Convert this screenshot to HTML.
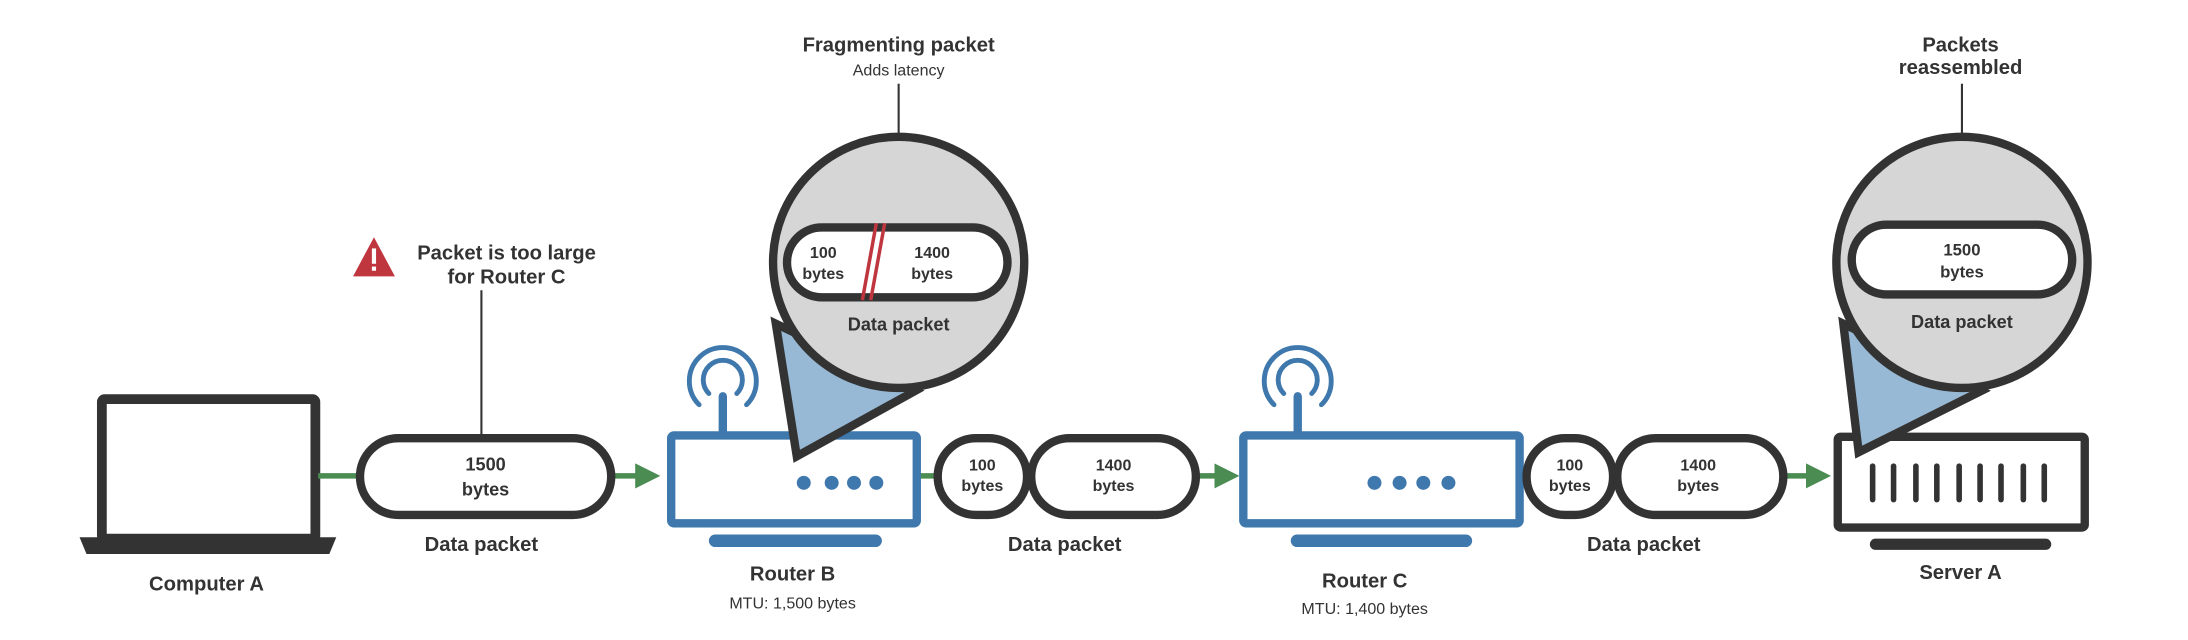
<!DOCTYPE html>
<html><head><meta charset="utf-8"><style>
html,body{margin:0;padding:0;background:#fff;}
svg{display:block}
text{font-family:"Liberation Sans",sans-serif;fill:#333;text-anchor:middle}
.b{font-weight:bold;font-size:14.5px}
.s{font-size:11.5px}
.p{font-weight:bold;font-size:13px}
</style></head><body>
<svg width="2188" height="640" viewBox="0 0 1568 458.6" preserveAspectRatio="none">
<defs>
<marker id="ar" viewBox="0 0 10 10" refX="6" refY="5" markerWidth="4.5" markerHeight="4.5" orient="auto"><path d="M0,0 L10,5 L0,10 z" fill="#4a8c52"/></marker>
</defs>
<!-- Computer A -->
<rect x="73" y="286" width="153" height="100" fill="#fff" stroke="#333" stroke-width="7" rx="2"/>
<path d="M57,385 H241 L236,397 H62 Z" fill="#333"/>
<text class="b" x="148" y="423">Computer A</text>
<!-- green connectors -->
<g stroke="#4a8c52" stroke-width="4" fill="none">
<line x1="228" y1="341" x2="258" y2="341"/>
<line x1="439" y1="341" x2="466" y2="341" marker-end="url(#ar)"/>
<line x1="659" y1="341" x2="672" y2="341"/>
<line x1="857" y1="341" x2="881" y2="341" marker-end="url(#ar)"/>
<line x1="1090" y1="341" x2="1095" y2="341"/>
<line x1="1278" y1="341" x2="1305" y2="341" marker-end="url(#ar)"/>
</g>
<!-- packet 1 -->
<rect x="258" y="314" width="180" height="55" rx="27.5" fill="#fff" stroke="#333" stroke-width="6"/>
<text class="p" x="348" y="337">1500</text><text class="p" x="348" y="355">bytes</text>
<text class="b" x="345" y="395">Data packet</text>
<line x1="345" y1="208" x2="345" y2="314" stroke="#333" stroke-width="1.5"/>
<path d="M268,170 L283,198 L253,198 Z" fill="#c0363f"/>
<rect x="266.5" y="178" width="3" height="11" fill="#fff"/><rect x="266.5" y="191" width="3" height="3" fill="#fff"/>
<text class="b" x="363" y="186">Packet is too large</text>
<text class="b" x="363" y="203">for Router C</text>
<!-- Router B -->
<g fill="none" stroke="#3f78ad" stroke-width="3.5" stroke-linecap="round">
<path d="M508,282 A14,14 0 1 1 528,282"/>
<path d="M501,290 A24,24 0 1 1 535,290"/>
</g>
<line x1="518" y1="284" x2="518" y2="312" stroke="#3f78ad" stroke-width="6" stroke-linecap="round"/>
<rect x="481" y="312" width="176" height="63" fill="#fff" stroke="#3f78ad" stroke-width="6" rx="2"/>
<g fill="#3f78ad"><circle cx="576" cy="346" r="5"/><circle cx="596" cy="346" r="5"/><circle cx="612" cy="346" r="5"/><circle cx="628" cy="346" r="5"/></g>
<rect x="508" y="383" width="124" height="9" rx="4.5" fill="#3f78ad"/>
<text class="b" x="568" y="416">Router B</text>
<text class="s" x="568" y="436">MTU: 1,500 bytes</text>
<!-- magnifier B -->
<line x1="644" y1="60" x2="644" y2="98" stroke="#333" stroke-width="1.5"/>
<text class="b" x="644" y="37">Fragmenting packet</text>
<text class="s" x="644" y="54">Adds latency</text>
<path d="M556,232 L571,327 L656,280 Z" fill="#98b9d5" stroke="#333" stroke-width="6" stroke-linejoin="miter"/>
<ellipse cx="644" cy="188" rx="90" ry="90" fill="#d6d6d6" stroke="#333" stroke-width="6"/>
<rect x="564" y="163" width="158" height="50" rx="25" fill="#fff" stroke="#333" stroke-width="6"/>
<g stroke="#c0363f" stroke-width="2.5"><line x1="618" y1="215" x2="628" y2="160"/><line x1="624" y1="215" x2="634" y2="160"/></g>
<text class="p" x="590" y="185" style="font-size:11.5px">100</text><text class="p" x="590" y="200" style="font-size:11.5px">bytes</text>
<text class="p" x="668" y="185" style="font-size:11.5px">1400</text><text class="p" x="668" y="200" style="font-size:11.5px">bytes</text>
<text class="p" x="644" y="237">Data packet</text>
<!-- packets between B and C -->
<rect x="672" y="314" width="64" height="55" rx="27.5" fill="#fff" stroke="#333" stroke-width="6"/>
<text class="p" x="704" y="337" style="font-size:11.5px">100</text><text class="p" x="704" y="352" style="font-size:11.5px">bytes</text>
<rect x="739" y="314" width="118" height="55" rx="27.5" fill="#fff" stroke="#333" stroke-width="6"/>
<text class="p" x="798" y="337" style="font-size:11.5px">1400</text><text class="p" x="798" y="352" style="font-size:11.5px">bytes</text>
<text class="b" x="763" y="395">Data packet</text>
<!-- Router C -->
<g fill="none" stroke="#3f78ad" stroke-width="3.5" stroke-linecap="round">
<path d="M920,282 A14,14 0 1 1 940,282"/>
<path d="M913,290 A24,24 0 1 1 947,290"/>
</g>
<line x1="930" y1="284" x2="930" y2="312" stroke="#3f78ad" stroke-width="6" stroke-linecap="round"/>
<rect x="891" y="312" width="198" height="63" fill="#fff" stroke="#3f78ad" stroke-width="6" rx="2"/>
<g fill="#3f78ad"><circle cx="985" cy="346" r="5"/><circle cx="1003" cy="346" r="5"/><circle cx="1020" cy="346" r="5"/><circle cx="1038" cy="346" r="5"/></g>
<rect x="925" y="383" width="130" height="9" rx="4.5" fill="#3f78ad"/>
<text class="b" x="978" y="421">Router C</text>
<text class="s" x="978" y="440">MTU: 1,400 bytes</text>
<!-- packets between C and Server -->
<rect x="1094" y="314" width="62" height="55" rx="27.5" fill="#fff" stroke="#333" stroke-width="6"/>
<text class="p" x="1125" y="337" style="font-size:11.5px">100</text><text class="p" x="1125" y="352" style="font-size:11.5px">bytes</text>
<rect x="1159" y="314" width="119" height="55" rx="27.5" fill="#fff" stroke="#333" stroke-width="6"/>
<text class="p" x="1217" y="337" style="font-size:11.5px">1400</text><text class="p" x="1217" y="352" style="font-size:11.5px">bytes</text>
<text class="b" x="1178" y="395">Data packet</text>
<!-- Server A -->
<rect x="1317" y="313" width="177" height="65" fill="#fff" stroke="#333" stroke-width="6" rx="2"/>
<g stroke="#333" stroke-width="4" stroke-linecap="round">
<line x1="1342" y1="334" x2="1342" y2="358"/><line x1="1357" y1="334" x2="1357" y2="358"/><line x1="1373" y1="334" x2="1373" y2="358"/><line x1="1388" y1="334" x2="1388" y2="358"/><line x1="1404" y1="334" x2="1404" y2="358"/><line x1="1419" y1="334" x2="1419" y2="358"/><line x1="1434" y1="334" x2="1434" y2="358"/><line x1="1450" y1="334" x2="1450" y2="358"/><line x1="1465" y1="334" x2="1465" y2="358"/>
</g>
<rect x="1340" y="386" width="130" height="8" rx="4" fill="#333"/>
<text class="b" x="1405" y="415">Server A</text>
<!-- magnifier A -->
<text class="b" x="1405" y="37">Packets</text>
<text class="b" x="1405" y="53">reassembled</text>
<line x1="1406" y1="60" x2="1406" y2="98" stroke="#333" stroke-width="1.5"/>
<path d="M1321,232 L1332,324 L1420,280 Z" fill="#98b9d5" stroke="#333" stroke-width="6"/>
<ellipse cx="1406" cy="188" rx="90" ry="90" fill="#d6d6d6" stroke="#333" stroke-width="6"/>
<rect x="1327" y="161" width="158" height="50" rx="25" fill="#fff" stroke="#333" stroke-width="6"/>
<text class="p" x="1406" y="183" style="font-size:12px">1500</text><text class="p" x="1406" y="199" style="font-size:12px">bytes</text>
<text class="p" x="1406" y="235">Data packet</text>
</svg>
</body></html>
